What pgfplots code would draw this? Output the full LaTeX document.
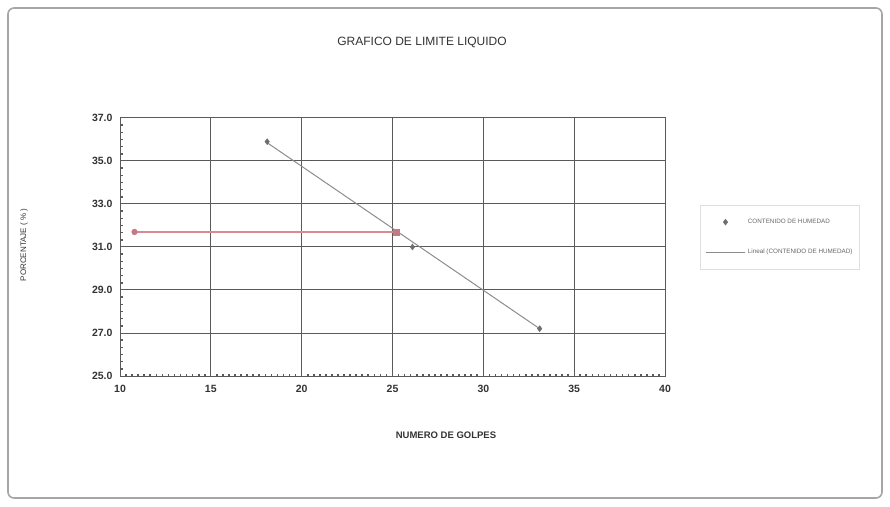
\documentclass[border=0pt]{standalone}
\usepackage{pgfplots}
\pgfplotsset{compat=1.18}
\usepackage{fontspec}
\setmainfont{Liberation Sans}
\setsansfont{Liberation Sans}

\definecolor{gridgray}{HTML}{5A5A5A}
\definecolor{ptgray}{HTML}{6E6E6E}
\definecolor{trendgray}{HTML}{8C8C8C}
\definecolor{redline}{HTML}{D9898F}
\definecolor{redmark}{HTML}{C27A86}

\begin{document}
\begin{tikzpicture}[x=1pt,y=1pt]
\path[use as bounding box] (0,0) rectangle (890,506);
\draw[gray!70, line width=1.6pt, rounded corners=6pt] (8,8) rectangle (882,498);

\node[font=\fontsize{12}{14}\selectfont, text=black!80] at (422,464) {GRAFICO DE LIMITE LIQUIDO};
\node[font=\bfseries\fontsize{9.5}{11}\selectfont, text=black!80] at (446,71) {NUMERO DE GOLPES};
\node[font=\fontsize{8}{10}\selectfont, text=black!80, rotate=90] at (24,261) {PORCENTAJE ( \% )};

\begin{axis}[
    at={(120pt,130pt)}, anchor=south west,
    width=545pt, height=258pt, scale only axis,
    xmin=10, xmax=40, ymin=25, ymax=37,
    xtick={10,15,...,40}, ytick={25,27,...,37},
    minor x tick num=14, minor y tick num=5,
    grid=major,
    grid style={line width=1pt, draw=gridgray},
    axis line style={line width=1pt, draw=gridgray},
    major tick length=0pt,
    minor tick length=2.5pt,
    minor tick style={line width=1.6pt, draw=gridgray},
    xtick pos=lower, ytick pos=left,
    /pgf/number format/assume math mode=true,
    tick label style={font=\bfseries\fontsize{10.5}{12}\selectfont, text=black!80},
    y tick label style={/pgf/number format/fixed, /pgf/number format/fixed zerofill,
        /pgf/number format/precision=1, xshift=-4pt},
    x tick label style={yshift=-6pt},
    legend style={at={(1.064,0.663)}, anchor=north west,
        draw=gray!25, fill=white,
        font=\fontsize{6.3}{7.5}\selectfont, text=black!60,
        row sep=20pt, inner xsep=5pt, inner ysep=12pt,
        cells={anchor=west}},
    legend image code/.code={
        \draw[mark repeat=2,mark phase=2,#1]
            plot coordinates {(0cm,0cm) (0.7cm,0cm) (1.4cm,0cm)};},
    legend cell align=left,
    clip=false,
]
% datos de humedad vs numero de golpes
\addplot[only marks, mark=diamond*, mark size=3pt, color=ptgray]
    coordinates {(18.1,35.9) (26.1,31.0) (33.1,27.2)};
\addlegendentry{CONTENIDO DE HUMEDAD}
% linea de tendencia
\addplot[color=trendgray, line width=1pt]
    coordinates {(18.1,35.85) (33.1,27.2)};
\addlegendentry{Lineal (CONTENIDO DE HUMEDAD)}
% lectura a 25 golpes
\addplot[color=redline, line width=1.2pt, mark=*, mark size=2.5pt,
    mark options={fill=redmark, draw=redmark}, forget plot]
    coordinates {(10.8,31.7) (25.2,31.7)};
\addplot[only marks, mark=square*, mark size=3pt, color=redmark, forget plot]
    coordinates {(25.2,31.7)};
\end{axis}
\end{tikzpicture}
\end{document}
